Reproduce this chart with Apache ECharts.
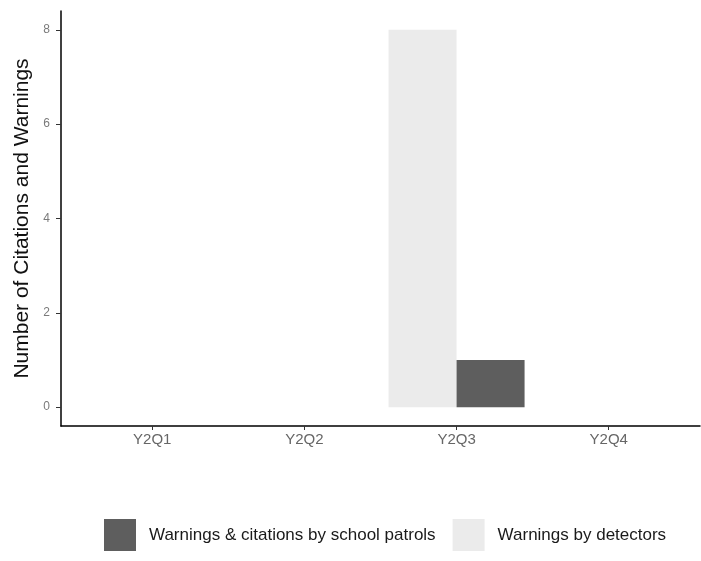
<!DOCTYPE html>
<html>
<head>
<meta charset="utf-8">
<script src="https://cdn.jsdelivr.net/npm/echarts@6/dist/echarts.min.js"></script>
<style>
  html, body { margin: 0; padding: 0; background: #ffffff; }
  #chart { width: 701px; height: 561px; }
</style>
</head>
<body>
<div id="chart"></div>
<script>
// Quarterly counts of citations and warnings
const quarters = ['Y2Q1', 'Y2Q2', 'Y2Q3', 'Y2Q4'];
const detectorWarnings = [0, 0, 8, 0];
const patrolWarnings = [0, 0, 1, 0];
const yTicks = [0, 2, 4, 6, 8];

const seriesNames = {
  patrol: 'Warnings & citations by school patrols',
  detector: 'Warnings by detectors'
};

const FONT = 'Liberation Sans, Arial, sans-serif';
const chartEl = document.getElementById('chart');
const chart = echarts.init(chartEl, null, { renderer: 'canvas' });

// Plot area and padded axis ranges (discrete axis padded by 0.6 of a step)
const gridLeft = 61, gridRight = 1, gridTop = 11, gridBottom = 135;
const xMin = 0.4, xMax = quarters.length + 0.6;
const plotWidth = 701 - gridLeft - gridRight;
const unitPx = plotWidth / (xMax - xMin);
const barPx = Math.round(unitPx * 0.45);

const toPairs = arr => arr.map((v, i) => [i + 1, v]);

const option = {
  backgroundColor: '#ffffff',
  animation: false,
  grid: { left: gridLeft, right: gridRight, top: gridTop, bottom: gridBottom, containLabel: false },
  legend: {
    data: [seriesNames.patrol, seriesNames.detector],
    left: 99,
    top: 514,
    orient: 'horizontal',
    itemWidth: 32,
    itemHeight: 32,
    itemGap: 17,
    icon: 'rect',
    textStyle: { fontFamily: FONT, fontSize: 17, color: '#1a1a1a', padding: [0, 0, 0, 8] }
  },
  xAxis: {
    type: 'value',
    min: xMin,
    max: xMax,
    splitLine: { show: false },
    axisLine: { show: true, onZero: false, lineStyle: { color: '#000000', width: 1.5 } },
    axisTick: { show: true, length: 4, lineStyle: { color: '#333333' }, customValues: quarters.map((q, i) => i + 1) },
    axisLabel: {
      customValues: quarters.map((q, i) => i + 1),
      formatter: v => quarters[Math.round(v) - 1] || '',
      fontFamily: FONT, fontSize: 15, color: '#666666', margin: 6
    }
  },
  yAxis: {
    type: 'value',
    min: -0.4,
    max: 8.4,
    name: 'Number of Citations and Warnings',
    nameLocation: 'middle',
    nameGap: 28,
    nameTextStyle: { fontFamily: FONT, fontSize: 21, color: '#111111' },
    splitLine: { show: false },
    axisLine: { show: true, onZero: false, lineStyle: { color: '#000000', width: 1.5 } },
    axisTick: { show: true, length: 5, lineStyle: { color: '#333333' }, customValues: yTicks },
    axisLabel: { customValues: yTicks, fontFamily: FONT, fontSize: 12, color: '#7a7a7a', margin: 11 }
  },
  series: [
    {
      name: seriesNames.detector,
      type: 'bar',
      data: toPairs(detectorWarnings),
      barWidth: barPx,
      barGap: '0%',
      itemStyle: { color: '#ebebeb' }
    },
    {
      name: seriesNames.patrol,
      type: 'bar',
      data: toPairs(patrolWarnings),
      barWidth: barPx,
      barGap: '0%',
      itemStyle: { color: '#5e5e5e' }
    }
  ]
};

chart.setOption(option);
</script>
</body>
</html>
